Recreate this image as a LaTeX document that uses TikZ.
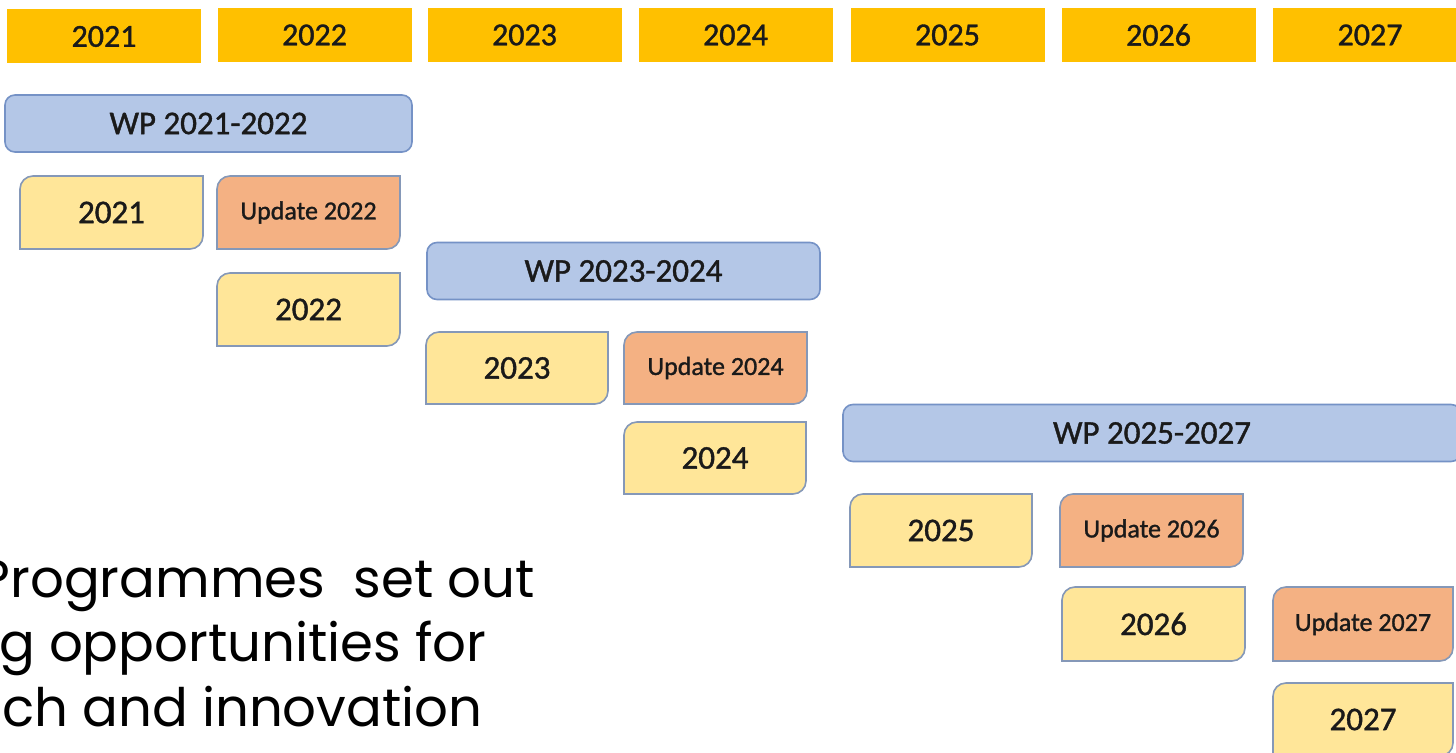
\documentclass[tikz,border=0pt]{standalone}
\usepackage{fontspec}
\setmainfont{Carlito}
\newfontface\boxfont{Carlito}[FakeBold=1.2]
\newfontfamily\poppins{Poppins}

\definecolor{yeargold}{HTML}{FFC000}
\definecolor{wpblue}{HTML}{B4C7E7}
\definecolor{wpedge}{HTML}{7592C6}
\definecolor{planyellow}{HTML}{FFE699}
\definecolor{updorange}{HTML}{F4B183}
\definecolor{cardedge}{HTML}{8598B8}
\definecolor{ink}{HTML}{1A1A1A}

\tikzset{
  yearbox/.style={fill=yeargold, minimum width=97pt, minimum height=27pt, inner sep=0pt,
    text=ink, font=\boxfont\fontsize{16}{18}\selectfont},
  wpbox/.style={fill=wpblue, draw=wpedge, line width=0.8pt, rounded corners=5pt,
    minimum height=28.5pt, inner sep=0pt, text=ink, font=\boxfont\fontsize{16.5}{18}\selectfont},
  cardlabel/.style={inner sep=0pt, text=ink},
  bigline/.style={anchor=base east, inner sep=0pt, font=\poppins\fontsize{26.5}{30}\selectfont}
}

% card with rounded top-left and bottom-right corners
\newcommand{\card}[8]{% name, x1, y1, x2, y2, fill, font size, text
  \filldraw[fill=#6, draw=cardedge, line width=0.8pt]
    (#2,#5) -- (#2,#3+13) .. controls (#2,#3+5.8) and (#2+5.8,#3) .. (#2+13,#3) -- (#4,#3)
    -- (#4,#5-13) .. controls (#4,#5-5.8) and (#4-5.8,#5) .. (#4-13,#5) -- cycle;
  \node[cardlabel, font=\boxfont\fontsize{#7}{#7}\selectfont] (#1) at ({(#2+#4)/2},{(#3+#5)/2}) {#8};
}

\begin{document}
\begin{tikzpicture}[x=0.5pt, y=-0.5pt]
  \useasboundingbox (0,0) rectangle (1456,753);
  \clip (0,0) rectangle (1456,753);
  \fill[white] (0,0) rectangle (1456,753); % page

  % year header
  \node[yearbox] (h2021) at (104,36.5) {2021};
  \foreach \yr/\cx in {2022/314.5, 2023/524.5, 2024/735.5, 2025/947.5, 2026/1158.5, 2027/1370}
    \node[yearbox] (h\yr) at (\cx,35) {\yr};

  % work programmes
  \node[wpbox, minimum width=203.5pt] (wp1) at (208.5,123.5) {WP 2021-2022};
  \node[wpbox, minimum width=196.5pt] (wp2) at (623.5,271) {WP 2023-2024};
  \node[wpbox, minimum width=309pt] (wp3) at (1152,433) {WP 2025-2027};

  % yearly plans and updates
  \card{p2021}{20}{176}{203}{249}{planyellow}{16.5}{2021}
  \card{u2022}{217}{176}{400}{249}{updorange}{13}{Update 2022}
  \card{p2022}{217}{273}{400}{346}{planyellow}{16.5}{2022}
  \card{p2023}{426}{332}{608}{404}{planyellow}{16.5}{2023}
  \card{u2024}{624}{332}{807}{404}{updorange}{13}{Update 2024}
  \card{p2024}{624}{422}{806}{494}{planyellow}{16.5}{2024}
  \card{p2025}{850}{494}{1032}{567}{planyellow}{16.5}{2025}
  \card{u2026}{1060}{494}{1243}{567}{updorange}{13}{Update 2026}
  \card{p2026}{1062}{587}{1245}{661}{planyellow}{16.5}{2026}
  \card{u2027}{1273}{587}{1453}{661}{updorange}{13}{Update 2027}
  \card{p2027}{1273}{683}{1453}{756}{planyellow}{16.5}{2027}

  % caption, cut at the left edge
  \node[bigline] (cap1) at (535,597) {Programmes\ \ set out};
  \node[bigline] (cap2) at (487,661) {g opportunities for};
  \node[bigline] (cap3) at (483,726) {ch and innovation};
\end{tikzpicture}
\end{document}
